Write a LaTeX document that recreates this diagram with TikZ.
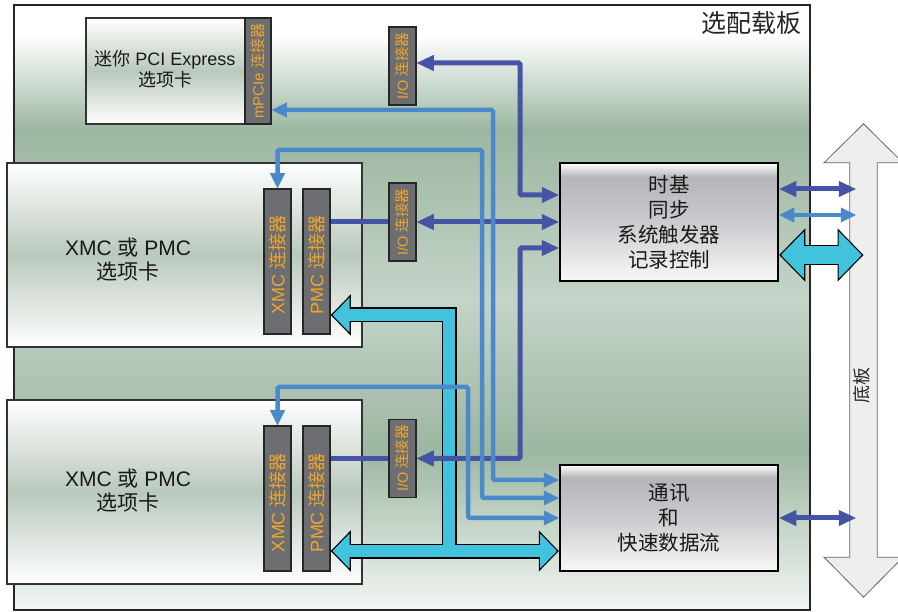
\documentclass[tikz,border=0pt]{standalone}
\usepackage{fontspec}
\setmainfont{Liberation Sans}
\newfontfamily\zh{Noto Sans CJK SC}
\usetikzlibrary{arrows.meta,calc}
\definecolor{dkblue}{HTML}{4654A5}
\definecolor{mdblue}{HTML}{4A8ACB}
\definecolor{cyanc}{HTML}{41C2DD}
\definecolor{connfill}{HTML}{6D6E71}
\definecolor{conntxt}{HTML}{F0A62A}
\definecolor{brdgreen}{HTML}{9CB7A1}
\definecolor{brdlight}{HTML}{C4D4C8}
\definecolor{brdwhite}{HTML}{F2F6F3}
\definecolor{cardmid}{HTML}{B9C9BC}
\definecolor{boxgray}{HTML}{B4B5B9}
\definecolor{boxmid}{HTML}{CACBCE}
\definecolor{boxbot}{HTML}{F8F8F8}
\definecolor{bpfill}{HTML}{EEEEEE}
\pgfdeclareverticalshading{boxshade}{100bp}{color(0bp)=(boxbot); color(25bp)=(boxbot); color(50bp)=(boxmid); color(69bp)=(boxgray); color(75bp)=(white); color(100bp)=(white)}

\begin{document}
\begin{tikzpicture}[x=1pt,y=-1pt,
    pipetip/.tip={Triangle[length=20pt,width=41pt,fill=cyanc,line width=1.1pt]},
    bigtip/.tip={Triangle[length=26pt,width=53pt,fill=cyanc,line width=1.1pt]}]
        \tikzstyle{board} = [draw=black!85, line width=2pt, minimum width=796pt, minimum height=605pt, inner sep=0pt]
        \tikzstyle{card} = [draw=black!80, line width=1.8pt, top color=white, bottom color=white, middle color=cardmid, inner sep=0pt]
        \tikzstyle{cardtext} = [align=center, text=black!90, font=\fontsize{21}{24}\selectfont]
        \tikzstyle{conn} = [draw=black!85, line width=1.5pt, fill=connfill, minimum width=27pt, inner sep=0pt]
        \tikzstyle{conntext} = [rotate=90, text=conntxt, inner sep=0pt, font=\fontsize{14.5}{17}\selectfont]
        \tikzstyle{unit} = [draw=black, line width=2.5pt, shade, shading=boxshade, minimum width=218pt, inner sep=0pt, align=center, text=black!90, font=\zh\fontsize{20.5}{25}\selectfont]
        \tikzstyle{bparrow} = [draw=black!60, line width=0.8pt, fill=bpfill]
        \tikzstyle{dkline} = [draw=dkblue, line width=5pt, rounded corners=1.5pt, >={Triangle[length=17pt,width=16pt,line width=0.6pt]}]
        \tikzstyle{mdline} = [draw=mdblue, line width=4.5pt, rounded corners=1.5pt, >={Triangle[length=15pt,width=15pt,line width=0.6pt]}]
        \tikzstyle{pipeout} = [draw=black, line width=15pt, line join=miter]
        \tikzstyle{pipein} = [draw=cyanc, line width=12.6pt, line join=miter]
        \tikzstyle{bigout} = [draw=black, line width=20.5pt]
        \tikzstyle{bigin} = [draw=cyanc, line width=18pt]

        \useasboundingbox (0,0) rectangle (898,612);

        % Carrier board
        \shade[top color=white, bottom color=white] (14,5) rectangle (810,35);
        \shade[top color=white, bottom color=brdgreen] (14,35) rectangle (810,130);
        \shade[top color=brdgreen, bottom color=brdlight] (14,130) rectangle (810,300);
        \shade[top color=brdlight, bottom color=brdgreen] (14,300) rectangle (810,450);
        \shade[top color=brdgreen, bottom color=brdwhite] (14,450) rectangle (810,610);
        \node[board] (board) at (412,307.5) {};
        \node[anchor=center, text=black!85, font=\zh\fontsize{25}{28}\selectfont] (boardt) at (751.5,23) {选配载板};

        % Backplane
        \node[minimum width=27pt, minimum height=394pt, inner sep=0pt] (bp) at (863.5,360) {};
        \draw[bparrow] ($(bp.north)+(0,-39)$) -- ($(bp.north)+(39.5,0)$) -- (bp.north east) -- (bp.south east)
            -- ($(bp.south)+(39.5,0)$) -- ($(bp.south)+(0,40)$) -- ($(bp.south)+(-39.5,0)$) -- (bp.south west)
            -- (bp.north west) -- ($(bp.north)+(-39.5,0)$) -- cycle;
        \node[rotate=90, text=black!85, font=\zh\fontsize{18}{20}\selectfont] (bpt) at (862,386) {底板};
        \coordinate (bpin) at ([xshift=6pt]bp.west);

        % Option cards
        \node[card, minimum width=159pt, minimum height=106pt] (card0) at (165.5,71) {};
        \node[cardtext, font=\fontsize{18}{21}\selectfont] (card0t) at (165,69.5) {{\zh 迷你} PCI Express\\{\zh 选项卡}};
        \node[card, minimum width=355pt, minimum height=184pt] (card1) at (184.5,255) {};
        \node[cardtext] (card1t) at (128,260) {XMC {\zh 或} PMC\\{\zh 选项卡}};
        \node[card, minimum width=355pt, minimum height=184pt] (card2) at (184.5,492) {};
        \node[cardtext] (card2t) at (128,490.5) {XMC {\zh 或} PMC\\{\zh 选项卡}};

        % Connectors
        \node[conn, minimum width=26pt, minimum height=106pt] (mpcie) at (258,71) {};
        \node[conntext, font=\fontsize{15}{18}\selectfont] (mpciet) at (mpcie) {mPCIe {\zh 连接器}};
        \node[conn, minimum height=145pt] (xmc1) at (277.5,261.5) {};
        \node[conn, minimum height=145pt] (pmc1) at (316.5,261.5) {};
        \node[conn, minimum height=145pt] (xmc2) at (277.5,498.5) {};
        \node[conn, minimum height=145pt] (pmc2) at (316.5,498.5) {};
        \node[conntext, font=\fontsize{18}{21}\selectfont] (xmc1t) at ([yshift=-4pt]xmc1) {XMC {\zh 连接器}};
        \node[conntext, font=\fontsize{18}{21}\selectfont] (pmc1t) at ([yshift=-4pt]pmc1) {PMC {\zh 连接器}};
        \node[conntext, font=\fontsize{18}{21}\selectfont] (xmc2t) at ([yshift=-4pt]xmc2) {XMC {\zh 连接器}};
        \node[conntext, font=\fontsize{18}{21}\selectfont] (pmc2t) at ([yshift=-4pt]pmc2) {PMC {\zh 连接器}};
        \node[conn, minimum height=78pt] (io0) at (402.5,66) {};
        \node[conn, minimum height=78pt] (io1) at (402.5,222) {};
        \node[conn, minimum height=78pt] (io2) at (402.5,458.5) {};
        \node[conntext] (io0t) at (io0) {I/O {\zh 连接器}};
        \node[conntext] (io1t) at (io1) {I/O {\zh 连接器}};
        \node[conntext] (io2t) at (io2) {I/O {\zh 连接器}};

        % Units
        \node[unit, minimum height=118pt] (timing) at (669,222) {时基\\同步\\系统触发器\\记录控制};
        \node[unit, minimum height=106pt] (comm) at (669,518) {通讯\\和\\快速数据流};

        % Fast data pipes
        \draw[pipeout, {pipetip}-] (pmc1.east |- 0,315) -| (449,551);
        \draw[pipeout, {pipetip}-{pipetip}] (pmc2.east |- 0,551) -- (comm.west |- 0,551);
        \draw[bigout, {bigtip}-{bigtip}] (timing.east |- 0,255) -- (bp |- 0,255);
        \draw[pipein, shorten <=18.5pt] (pmc1.east |- 0,315) -| (449,551);
        \draw[pipein, shorten <=18.5pt, shorten >=18.5pt] (pmc2.east |- 0,551) -- (comm.west |- 0,551);
        \draw[bigin, shorten <=24.5pt, shorten >=24.5pt] (timing.east |- 0,255) -- (bp |- 0,255);

        % I/O lines
        \draw[dkline,<->] (io0.east |- 0,63) -| (520,195) -- (timing.west |- 0,195);
        \draw[dkline] (pmc1.east |- io1.west) -- (io1.west);
        \draw[dkline,<->] (io1.east) -- (timing.west |- io1.east);
        \draw[dkline] (pmc2.east |- io2.west) -- (io2.west);
        \draw[dkline,<->] (io2.east) -| (520,248) -- (timing.west |- 0,248);

        % Card lines
        \draw[mdline,<->] (mpcie.east |- 0,110) -| (493,480) -- (comm.west |- 0,480);
        \draw[mdline,<->] (xmc1.north) |- (482,150) |- (comm.west |- 0,498);
        \draw[mdline,<->] (xmc2.north) |- (468,387) |- (comm.west |- 0,518);

        % Backplane lines
        \draw[dkline,<->] (timing.east |- 0,189) -- (bpin |- 0,189);
        \draw[mdline,<->] (timing.east |- 0,215) -- (bpin |- 0,215);
        \draw[dkline,<->] (comm.east) -- (bpin |- comm.east);
    \end{tikzpicture}
\end{document}
